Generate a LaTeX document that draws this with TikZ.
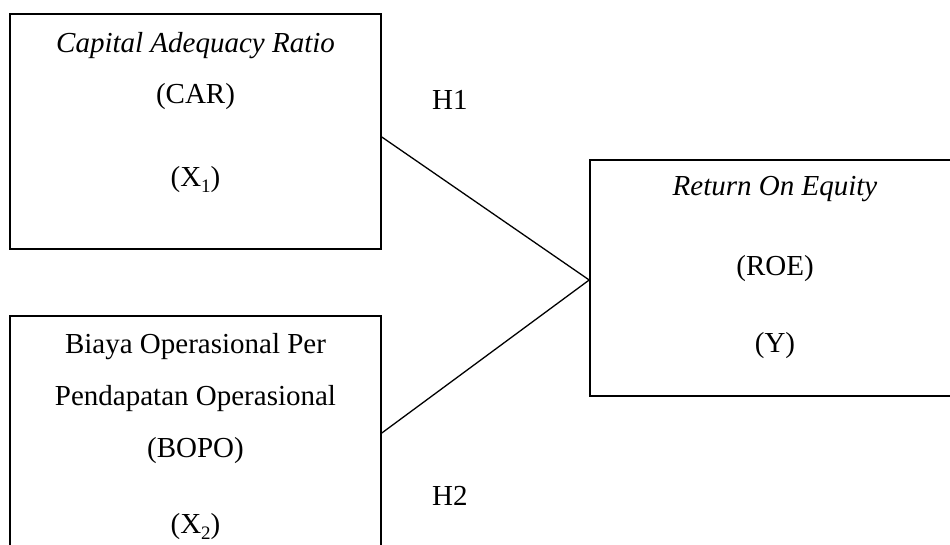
\documentclass[tikz,border=0pt]{standalone}
\usepackage{fontspec}
\setmainfont{Liberation Serif}
\newcommand{\lowsub}[1]{\raisebox{-0.22em}{\fontsize{19}{19}\selectfont #1}}
\begin{document}
\begin{tikzpicture}[x=1pt,y=-1pt,
  box/.style={draw=black,line width=1.6pt,rectangle,inner sep=0pt},
  link/.style={draw=black,line width=1.3pt},
  txt/.style={anchor=base,inner sep=0pt,font=\fontsize{29}{34}\selectfont}]
\useasboundingbox (0,0) rectangle (950,544);
\clip (0,0) rectangle (950,544);
\fill[white] (0,0) rectangle (950,544);
% boxes
\node[box,minimum width=371pt,minimum height=235pt] (car) at (195.5,131.5) {};
\node[box,minimum width=371pt,minimum height=254pt] (bopo) at (195.5,443) {};
\node[box,minimum width=370pt,minimum height=236pt] (roe) at (775,278) {};
% texts
\node[txt] (t1) at (195.5,52) {\textit{Capital Adequacy Ratio}};
\node[txt] (t2) at (195.5,103) {(CAR)};
\node[txt] (t3) at (195.5,186) {(X\lowsub{1})};
\node[txt] (b1) at (195.5,353) {Biaya Operasional Per};
\node[txt] (b2) at (195.5,405) {Pendapatan Operasional};
\node[txt] (b3) at (195.5,457) {(BOPO)};
\node[txt] (b4) at (195.5,533) {(X\lowsub{2})};
\node[txt] (r1) at (775,195) {\textit{Return On Equity}};
\node[txt] (r2) at (775,275) {(ROE)};
\node[txt] (r3) at (775,352) {(Y)};
\node[txt,anchor=base west] (h1) at (432,109) {H1};
\node[txt,anchor=base west] (h2) at (432,505) {H2};
% connectors
\draw[link] ([yshift=-5.5pt]car.east) -- ([yshift=-2pt]roe.west);
\draw[link] ([yshift=10pt]bopo.east) -- ([yshift=-2pt]roe.west);
\end{tikzpicture}
\end{document}
